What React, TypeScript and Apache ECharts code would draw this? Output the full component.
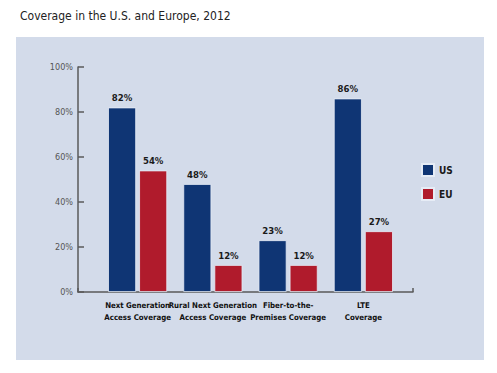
import React, { useEffect, useRef } from "react";
import * as echarts from "echarts";

const categories = [
  "Next Generation\nAccess Coverage",
  "Rural Next Generation\nAccess Coverage",
  "Fiber-to-the-\nPremises Coverage",
  "LTE\nCoverage",
];
const usValues = [82, 48, 23, 86];
const euValues = [54, 12, 12, 27];
const yTicks = [0, 20, 40, 60, 80, 100];

const FONT = "'DejaVu Sans Condensed', 'DejaVu Sans', sans-serif";

export default function App() {
  const ref = useRef<HTMLDivElement>(null);
  useEffect(() => {
    if (!ref.current) return;
    const chart = echarts.init(ref.current, null, { renderer: "svg" });
    const labelCommon = {
      show: true,
      position: "top" as const,
      distance: 5,
      formatter: "{c}%",
      color: "#1a1a1a",
      fontFamily: FONT,
      fontWeight: "bold" as const,
      fontSize: 9.5,
    };
    chart.setOption({
      animation: false,
      backgroundColor: "#ffffff",
      title: {
        text: "Coverage in the U.S. and Europe, 2012",
        left: 15,
        top: 5,
        textStyle: { fontFamily: FONT, fontSize: 12, fontWeight: "normal", color: "#222" },
      },
      graphic: [
        {
          type: "rect",
          z: -10,
          silent: true,
          shape: { x: 16, y: 37, width: 468, height: 323 },
          style: { fill: "#d3dbea" },
        },
      ],
      legend: {
        orient: "vertical",
        left: 421,
        top: 163,
        padding: 0,
        itemWidth: 12,
        itemHeight: 12,
        itemGap: 10,
        icon: "rect",
        textStyle: { fontFamily: FONT, fontWeight: "bold", fontSize: 10, color: "#1a1a1a" },
        data: ["US", "EU"],
      },
      grid: [
        { left: 100, top: 67, width: 301, height: 225 },
        { left: 78, top: 67, width: 335, height: 225 },
      ],
      xAxis: [
        {
          type: "category",
          gridIndex: 0,
          data: categories,
          axisLine: { show: false },
          axisTick: { show: false },
          axisLabel: {
            margin: 8,
            interval: 0,
            fontFamily: FONT,
            fontWeight: "bold",
            fontSize: 7.8,
            lineHeight: 11.5,
            color: "#111",
          },
        },
        {
          type: "category",
          gridIndex: 1,
          data: [""],
          boundaryGap: true,
          axisLine: { show: true, lineStyle: { color: "#5a5a5a", width: 1.5 } },
          axisTick: { show: true, inside: true, length: 4, lineStyle: { color: "#5a5a5a", width: 1.5 } },
          axisLabel: { show: false },
        },
      ],
      yAxis: [
        {
          type: "value",
          gridIndex: 0,
          min: 0,
          max: 100,
          interval: 20,
          show: false,
        },
        {
          type: "value",
          gridIndex: 1,
          min: yTicks[0],
          max: yTicks[yTicks.length - 1],
          interval: yTicks[1] - yTicks[0],
          splitLine: { show: false },
          axisLine: { show: true, lineStyle: { color: "#5a5a5a", width: 1.5 } },
          axisTick: { show: true, inside: true, length: 6, lineStyle: { color: "#5a5a5a", width: 1.5 } },
          axisLabel: {
            formatter: "{value}%",
            margin: 5,
            fontFamily: FONT,
            fontSize: 9,
            color: "#555",
          },
        },
      ],
      series: [
        {
          name: "US",
          type: "bar",
          xAxisIndex: 0,
          yAxisIndex: 0,
          data: usValues,
          barWidth: 28,
          barGap: "11%",
          itemStyle: { color: "#0f3574", borderColor: "#e6ecf6", borderWidth: 0.8 },
          label: labelCommon,
        },
        {
          name: "EU",
          type: "bar",
          xAxisIndex: 0,
          yAxisIndex: 0,
          data: euValues,
          barWidth: 28,
          itemStyle: { color: "#b01b2c", borderColor: "#e6ecf6", borderWidth: 0.8 },
          label: labelCommon,
        },
      ],
    });
    return () => chart.dispose();
  }, []);
  return (
    <div
      ref={ref}
      style={{ position: "fixed", left: 0, top: 0, width: 497, height: 373 }}
    />
  );
}
